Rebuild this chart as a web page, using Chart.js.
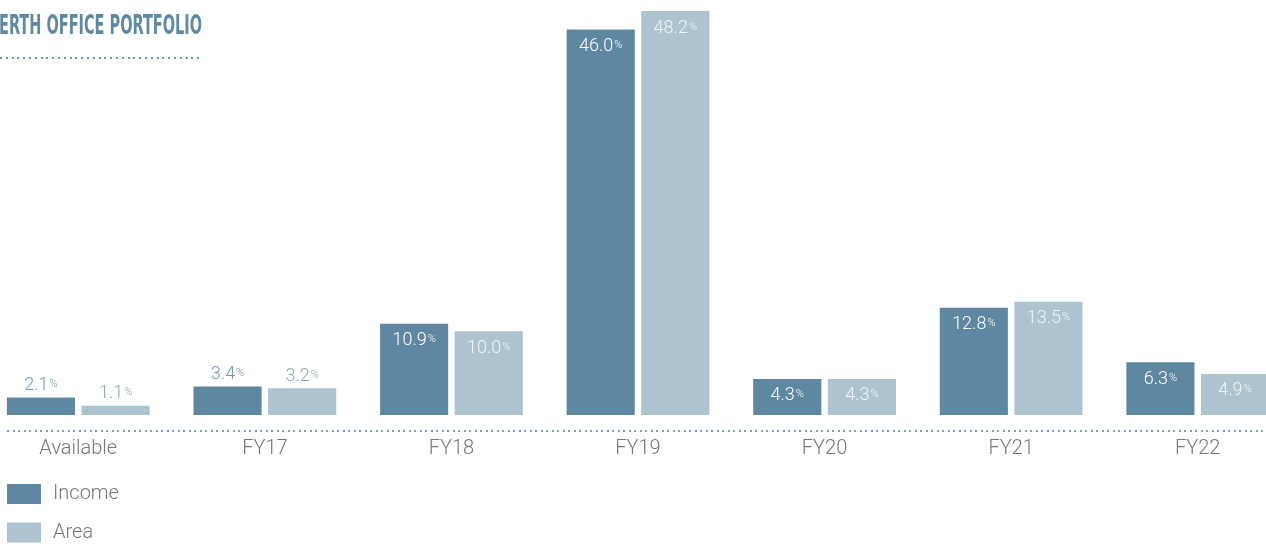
<!DOCTYPE html>
<html>
<head>
<meta charset="utf-8">
<script src="https://cdn.jsdelivr.net/npm/chart.js@4"></script>
<style>
html,body{margin:0;padding:0;overflow:hidden;background:#fff;width:1266px;height:544px;}
#wrap{position:absolute;left:-15px;top:0;width:1306px;height:544px;}
</style>
</head>
<body>
<div id="wrap"><canvas id="c" width="1306" height="544"></canvas></div>
<script>
const categories = ['Available','FY17','FY18','FY19','FY20','FY21','FY22'];
const incomeValues = [2.1, 3.4, 10.9, 46.0, 4.3, 12.8, 6.3];
const areaValues = [1.1, 3.2, 10.0, 48.2, 4.3, 13.5, 4.9];
const seriesNames = ['Income','Area'];
const titleText = 'ERTH OFFICE PORTFOLIO';

const OFF = 15; // canvas is shifted left by this many pixels
const INCOME_COLOR = '#5e87a1';
const AREA_COLOR = '#adc3d0';
const LABEL_FONT = 'Roboto,"Helvetica Neue",Arial,sans-serif';

function dots(ctx, x0, x1, y, step, color){
  ctx.fillStyle = color;
  for(let x=x0; x<=x1; x+=step){ ctx.fillRect(Math.round(x)+OFF, y, 2, 2); }
}

function valueLabel(ctx, v, cx, cy, color){
  const txt = v.toFixed(1);
  ctx.font = '300 18px ' + LABEL_FONT;
  const w1 = ctx.measureText(txt).width;
  ctx.font = '300 11px ' + LABEL_FONT;
  const w2 = ctx.measureText('%').width;
  const start = cx - (w1 + w2 + 1)/2;
  ctx.fillStyle = color;
  ctx.textAlign = 'left';
  ctx.textBaseline = 'middle';
  ctx.font = '300 18px ' + LABEL_FONT;
  ctx.fillText(txt, start, cy);
  ctx.font = '300 11px ' + LABEL_FONT;
  ctx.textBaseline = 'alphabetic';
  ctx.fillText('%', start + w1 + 1, cy + 1.5);
}

const decor = {
  id: 'decor',
  afterDatasetsDraw(chart){
    const ctx = chart.ctx;
    ctx.save();
    // title
    ctx.font = 'bold 26px "Liberation Sans Narrow","DejaVu Sans Condensed",Arial,sans-serif';
    const tw = ctx.measureText(titleText).width;
    ctx.save();
    ctx.translate(OFF - 1, 0);
    ctx.scale(203 / tw, 1);
    ctx.fillStyle = '#5f88a3';
    ctx.textAlign = 'left';
    ctx.textBaseline = 'alphabetic';
    ctx.fillText(titleText, 0, 34);
    ctx.restore();
    dots(ctx, 0, 202, 57, 5.8, '#6d92ab');
    // baseline dotted
    dots(ctx, 7, 1263, 430, 5.5, '#7c9db4');

    // value labels
    const aboveColors = ['#7397b0', '#89a7bb'];
    const insideColors = ['#ffffff', '#f2f6f8'];
    chart.data.datasets.forEach((ds, di) => {
      const meta = chart.getDatasetMeta(di);
      meta.data.forEach((bar, i) => {
        const v = ds.data[i];
        if (v >= 4) {
          valueLabel(ctx, v, bar.x, bar.y + 17, insideColors[di]);
        } else {
          valueLabel(ctx, v, bar.x, bar.y - 12, aboveColors[di]);
        }
      });
    });

    // category labels
    const xs = chart.scales.x;
    ctx.font = '300 20px ' + LABEL_FONT;
    ctx.fillStyle = '#777777';
    ctx.textAlign = 'center';
    ctx.textBaseline = 'middle';
    chart.data.labels.forEach((lab, i) => {
      ctx.fillText(lab, xs.getPixelForValue(i), 449);
    });

    // legend
    chart.data.datasets.forEach((ds, di) => {
      const y = 484 + 38.5 * di;
      ctx.fillStyle = ds.backgroundColor;
      ctx.fillRect(7 + OFF, y, 34, 20);
      ctx.fillStyle = '#777777';
      ctx.textAlign = 'left';
      ctx.textBaseline = 'middle';
      ctx.font = '300 20px ' + LABEL_FONT;
      ctx.fillText(ds.label, 53 + OFF, y + 10);
    });
    ctx.restore();
  }
};

new Chart(document.getElementById('c'), {
  type: 'bar',
  data: {
    labels: categories,
    datasets: [
      { label: seriesNames[0], data: incomeValues, backgroundColor: INCOME_COLOR, borderWidth: 0 },
      { label: seriesNames[1], data: areaValues, backgroundColor: AREA_COLOR, borderWidth: 0 }
    ]
  },
  options: {
    responsive: false,
    animation: false,
    devicePixelRatio: 1,
    datasets: { bar: { categoryPercentage: 0.8, barPercentage: 0.913 } },
    layout: { padding: { top: 11, bottom: 129, left: 0, right: 0 } },
    scales: {
      x: { display: false, offset: true },
      y: { display: false, min: 0, max: 48.2 }
    },
    plugins: { legend: { display: false }, tooltip: { enabled: false }, title: { display: false } }
  },
  plugins: [decor]
});
</script>
</body>
</html>
